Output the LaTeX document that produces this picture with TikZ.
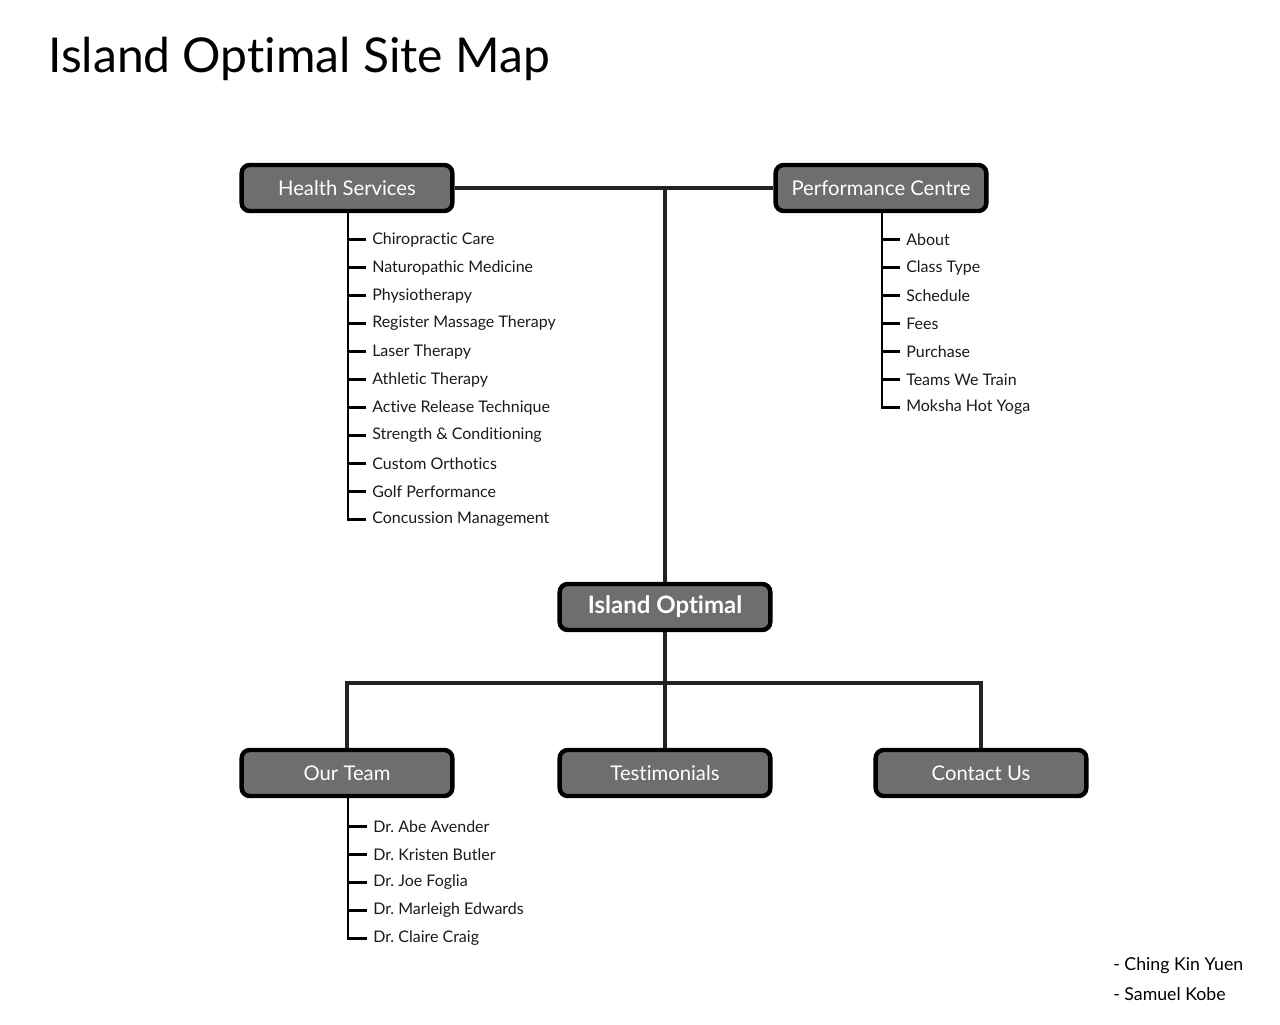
\documentclass[tikz,border=0pt]{standalone}
\usepackage{fontspec}
\setmainfont{Lato}[Ligatures=NoCommon]
\frenchspacing
\definecolor{boxgray}{HTML}{6E6E6E}
\definecolor{linecol}{HTML}{222222}
\definecolor{txt}{HTML}{1A1A1A}
\begin{document}
\begin{tikzpicture}[x=0.75pt,y=-0.75pt,
  box/.style={draw=black, line width=3.3pt, fill=boxgray, rounded corners=6pt,
    minimum width=158pt, minimum height=34.5pt, text=white, inner sep=0pt,
    font=\fontsize{15.2}{17}\selectfont},
  conn/.style={draw=linecol, line width=3pt},
  tickln/.style={draw=black, line width=2.2pt},
  item/.style={anchor=west, inner ysep=0pt, inner xsep=4.5pt, text=txt,
    font=\fontsize{12}{14}\selectfont}]
\useasboundingbox (0,0) rectangle (1280,1024);
\node[anchor=base west, inner sep=0pt, text=black, font=\fontsize{36}{40}\selectfont] (title) at (48,73) {Island Optimal Site Map};

\node[box] (hs) at (347,188) {Health Services};
\node[box] (pc) at (881,188) {Performance Centre};
\node[box, font=\bfseries\fontsize{18}{20}\selectfont] (io) at (665,607) {Island Optimal};
\node[box] (ot) at (347,773) {Our Team};
\node[box] (tm) at (665,773) {Testimonials};
\node[box] (cu) at (981,773) {Contact Us};

\coordinate (top) at (665,188);
\draw[conn] (hs.east) -- (pc.west);
\draw[conn] (top) -- (io.north);
\draw[conn] (io.south) -- (tm.north);
\draw[conn] (ot.north) -- ++(0,-65) -| (cu.north);

% Health Services list
\coordinate (hsspine) at (348,212);
\foreach \t [count=\i] in {Chiropractic Care, Naturopathic Medicine, Physiotherapy,
  Register Massage Therapy, Laser Therapy, Athletic Therapy, Active Release Technique,
  Strength \& Conditioning, Custom Orthotics, Golf Performance, Concussion Management}
  \node[item] (hs\i) at (366,{211.5+28*\i}) {\t};
\draw[tickln] (hsspine) |- (hs11.west);
\foreach \i in {1,...,10} \draw[tickln] (hsspine |- hs\i.west) -- (hs\i.west);

% Performance Centre list
\coordinate (pcspine) at (882,212);
\foreach \t [count=\i] in {About, Class Type, Schedule, Fees, Purchase, Teams We Train, Moksha Hot Yoga}
  \node[item] (pc\i) at (900,{211.5+28*\i}) {\t};
\draw[tickln] (pcspine) |- (pc7.west);
\foreach \i in {1,...,6} \draw[tickln] (pcspine |- pc\i.west) -- (pc\i.west);

% Our Team list
\coordinate (otspine) at (348,797);
\foreach \t [count=\i] in {Dr. Abe Avender, Dr. Kristen Butler, Dr. Joe Foglia, Dr. Marleigh Edwards, Dr. Claire Craig}
  \node[item] (ot\i) at (367,{798.5+28*\i}) {\t};
\draw[tickln] (otspine) |- (ot5.west);
\foreach \i in {1,...,4} \draw[tickln] (otspine |- ot\i.west) -- (ot\i.west);

% credits
\node[item, inner xsep=0pt, text=black, font=\fontsize{13.3}{15}\selectfont] (c1) at (1113,966) {- Ching Kin Yuen};
\node[item, inner xsep=0pt, text=black, font=\fontsize{13.3}{15}\selectfont] (c2) at (1113,994) {- Samuel Kobe};
\end{tikzpicture}
\end{document}
